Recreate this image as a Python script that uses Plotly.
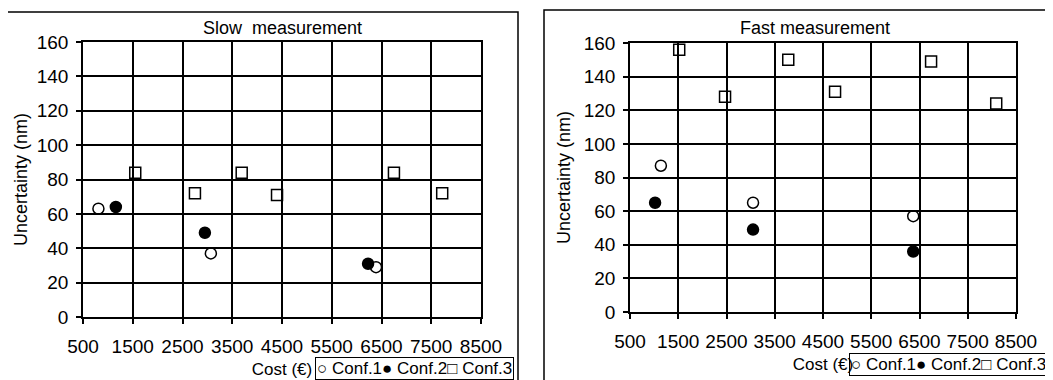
import plotly.graph_objects as go

# ---- data ----
x_ticks = [500, 1500, 2500, 3500, 4500, 5500, 6500, 7500, 8500]
y_ticks = [0, 20, 40, 60, 80, 100, 120, 140, 160]

slow_conf1_cost = [810, 3070, 6390]
slow_conf1_unc = [63, 37, 29]
slow_conf2_cost = [1160, 2950, 6230]
slow_conf2_unc = [64, 49, 31]
slow_conf3_cost = [1550, 2750, 3690, 4400, 6750, 7720]
slow_conf3_unc = [84, 72, 84, 71, 84, 72]

fast_conf1_cost = [1140, 3050, 6370]
fast_conf1_unc = [87, 65, 57]
fast_conf2_cost = [1020, 3050, 6370]
fast_conf2_unc = [65, 49, 36]
fast_conf3_cost = [1520, 2470, 3780, 4750, 6740, 8090]
fast_conf3_unc = [156, 128, 150, 131, 149, 124]

series_names = ["Conf.1", "Conf.2", "Conf.3"]
panel_titles = ["Slow  measurement", "Fast measurement"]
x_title = "Cost (€)"
y_title = "Uncertainty (nm)"
legend_text = "○ Conf.1● Conf.2□ Conf.3"

W, H = 1053, 380
OFF = 8  # page body margin
FONT = "Liberation Sans, Arial, sans-serif"

fig = go.Figure()

symbols = ["circle-open", "circle", "square-open"]
panels = [
    ("x", "y", [(slow_conf1_cost, slow_conf1_unc), (slow_conf2_cost, slow_conf2_unc), (slow_conf3_cost, slow_conf3_unc)]),
    ("x2", "y2", [(fast_conf1_cost, fast_conf1_unc), (fast_conf2_cost, fast_conf2_unc), (fast_conf3_cost, fast_conf3_unc)]),
]
for xa, ya, data in panels:
    for (xs, ys), name, sym in zip(data, series_names, symbols):
        fig.add_trace(go.Scatter(
            x=xs, y=ys, mode="markers", name=name, xaxis=xa, yaxis=ya,
            showlegend=False,
            marker=dict(symbol=sym, size=11, color="black",
                        line=dict(color="black", width=1.5)),
        ))

def px_x(p):
    return (p - OFF) / W

def px_y(p):
    return (H - (p - OFF)) / H

axis_common = dict(
    showline=True, linecolor="black", linewidth=1.5, mirror=True,
    showgrid=True, gridcolor="black", gridwidth=1.5,
    ticks="outside", ticklen=5, tickcolor="black", tickwidth=1.5,
    zeroline=False, automargin=False,
    tickfont=dict(family=FONT, size=19, color="black"),
)
xt = dict(text=x_title, standoff=8, font=dict(family=FONT, size=17, color="black"))

fig.update_layout(
    template="none",
    width=W, height=H,
    margin=dict(l=0, r=0, t=0, b=0),
    paper_bgcolor="white", plot_bgcolor="white",
    font=dict(family=FONT, size=18, color="black"),
    showlegend=False,
    xaxis=dict(axis_common, domain=[px_x(83), px_x(481)], range=[500, 8500],
               tickvals=x_ticks, anchor="y", ticklabelstandoff=6, title=xt),
    yaxis=dict(axis_common, domain=[px_y(317), px_y(42)], range=[0, 160],
               tickvals=y_ticks, anchor="x", ticklabelstandoff=4,
               title=dict(text=y_title, standoff=4, font=dict(family=FONT, size=18, color="black"))),
    xaxis2=dict(axis_common, domain=[px_x(630), px_x(1016)], range=[500, 8500],
                tickvals=x_ticks, anchor="y2", ticklabelstandoff=6, title=xt),
    yaxis2=dict(axis_common, domain=[px_y(312), px_y(43)], range=[0, 160],
                tickvals=y_ticks, anchor="x2", ticklabelstandoff=4,
                title=dict(text=y_title, standoff=8, font=dict(family=FONT, size=18, color="black"))),
)

# panel frames
fig.add_shape(type="rect", xref="paper", yref="paper",
              x0=px_x(7), x1=px_x(518), y0=-0.05, y1=px_y(12),
              line=dict(color="black", width=1.5), layer="below")
fig.add_shape(type="rect", xref="paper", yref="paper",
              x0=px_x(544), x1=px_x(1047), y0=-0.05, y1=px_y(10),
              line=dict(color="black", width=1.5), layer="below")

# panel titles
for cx, cy, t in [(283, 28, panel_titles[0]), (815, 28, panel_titles[1])]:
    fig.add_annotation(x=px_x(cx), y=px_y(cy), xref="paper", yref="paper",
                       text=t, showarrow=False, xanchor="center", yanchor="middle",
                       font=dict(family=FONT, size=18, color="black"))

# legend boxes
for lx, ly in [(315, 357), (849, 353)]:
    fig.add_annotation(x=px_x(lx), y=px_y(ly), xref="paper", yref="paper",
                       text=legend_text, showarrow=False, xanchor="left", yanchor="top",
                       bordercolor="black", borderwidth=1, borderpad=1,
                       font=dict(family=FONT, size=17, color="black"))

fig.write_html("out.html")
